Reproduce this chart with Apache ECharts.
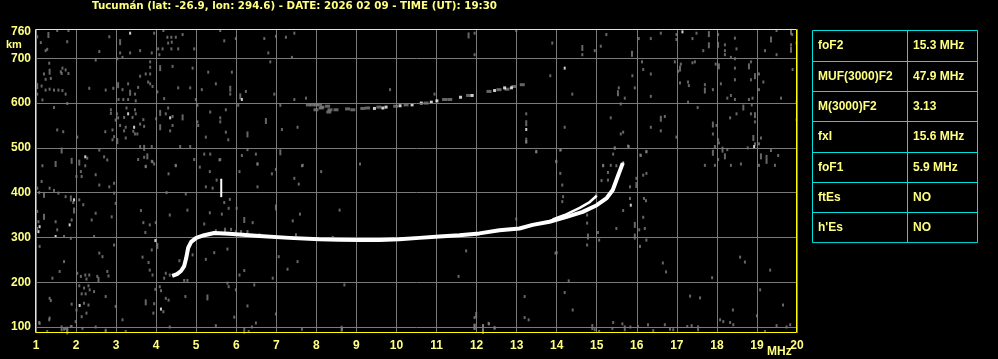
<!DOCTYPE html>
<html><head><meta charset="utf-8">
<script src="https://cdn.jsdelivr.net/npm/echarts@6/dist/echarts.min.js"></script>
<style>html,body{margin:0;padding:0;background:#000}#c{width:998px;height:359px}</style>
</head><body><div id="c"></div><script>
// ---------- data ----------
const titleText = 'Tucumán (lat: -26.9, lon: 294.6) - DATE: 2026 02 09 - TIME (UT): 19:30';
const xTicks = [1,2,3,4,5,6,7,8,9,10,11,12,13,14,15,16,17,18,19,20];
const yTicks = [100,200,300,400,500,600,700,760];
const yGridLines = [100,200,300,400,500,600,700];
const paramNames = ['foF2','MUF(3000)F2','M(3000)F2','fxI','foF1','ftEs',"h'Es"];
const paramValues = ['15.3 MHz','47.9 MHz','3.13','15.6 MHz','5.9 MHz','NO','NO'];

// main F-layer trace (MHz, km)
const traceF = [4.40,4.52,4.62,4.70,4.75,4.80,4.875,5.0,5.2,5.45,5.82,6.57,7.32,8.07,8.57,9.07,9.57,10.07,10.57,11.07,11.57,12.07,12.57,13.07,13.4,13.82,14.25,14.65,15.0,15.25,15.4,15.52,15.65];
const traceH = [214,218,225,236,254,277,290,299,305,310,308,303,299,296,295,294,294,296,299,302,305,309,316,320,328,335,346,357,372,388,406,435,466];
// second (thin) branch near the critical frequency
const branchF = [13.9,14.2,14.575,14.825,15.0];
const branchH = [340,350,366,379,393];
// short vertical echo near 5.6 MHz
const spikeF = [5.625,5.625];
const spikeH = [390,431];
// multi-hop trace near 600 km
const hopGray = [[7.8,596],[7.9,596],[8.0,596],[8.08,597],[7.99,585],[8.12,589],[8.14,591],[8.28,593],[8.34,585],[8.31,580],[8.49,585],[8.78,587],[8.91,585],[9.16,588],[9.28,589],[9.56,591],[9.98,593],[10.24,596],[10.74,600],[11.2,608],[11.33,608],[11.8,617],[12.31,626],[12.56,630],[12.76,631],[12.93,637],[13.14,641]];
const hopWhite = [[9.45,588],[9.66,589],[9.74,591],[10.09,594],[10.39,596],[10.62,600],[10.87,602],[11.01,605],[11.6,613],[11.89,617],[12.45,628],[12.7,634],[12.87,634]];

// background noise (MHz, km)
const noiseGray = [
[3.95,756],[4.18,762],[4.28,747],[4.38,747],[4.49,747],[4.66,753],[4.3,734],[4.39,736],[3.1,712],[3.35,712],[3.6,717],[3.89,712],[4.05,721],[4.16,721],[4.38,721],[4.55,721],[4.95,721],[4.08,708],[3.03,699],[3.16,702],[3.85,692],[3.85,680],[4.41,682],[4.91,678],[3.6,660],[3.74,665],[3.85,665],[3.8,647],[3.85,643],[3.91,637],[3.3,643],[3.55,635],[3.16,630],[3.06,608],[3.18,608],[3.3,608],[3.49,605],[3.47,620],[4.03,625],[4.2,610],[4.55,634],[4.85,634],[4.99,608],[5.14,630],[5.3,669],[5.49,643],[5.7,739],[5.6,762],[5.85,620],[5.99,744],[6.24,626],[5.89,669],[6.7,744],[6.99,749],[7.24,747],[7.45,756],[6.8,712],[6.85,692],[7.39,702],[6.95,620],[7.45,608],[7.74,611],[5.03,595],[5.35,580],[5.6,567],[5.74,585],[5.6,558],[6.05,595],[7.1,595],[7.14,541],[7.53,546],[5.03,558],[5.05,550],[5.24,524],[5.74,535],[5.8,518],[3.26,589],[3.47,585],[3.2,568],[3.41,568],[3.49,576],[3.68,563],[3.6,553],[3.7,548],[3.24,546],[3.2,538],[3.43,537],[3.53,531],[3.47,531],[3.24,522],[3.05,567],[3.1,550],[3.02,576],[4.0,565],[4.24,576],[4.41,570],[4.3,589],[4.35,538],[4.41,550],[3.6,503],[3.89,503],[3.7,479],[3.55,474],[3.89,470],[3.95,464],[3.74,459],[4.49,461],[4.6,503],[4.85,503],[4.95,474],[5.2,486],[5.35,486],[5.6,474],[6.14,483],[6.28,496],[6.49,486],[6.53,464],[7.66,461],
[11.95,756],[11.95,708],[12.99,762],[13.89,734],[13.84,661],[9.84,630],[10.95,620],[13.24,576],[13.49,491],[13.99,470],[9.09,464],
[15.24,753],[16.6,756],[16.99,753],[17.49,756],[18.03,753],[18.45,745],[19.49,762],[19.88,753],[14.64,708],[14.95,717],[15.1,727],[16.05,744],[16.35,744],[16.99,742],[17.39,744],[17.66,717],[18.2,730],[18.2,717],[18.2,708],[18.49,721],[18.35,702],[18.45,699],[19.2,717],[19.49,708],[19.85,730],[19.99,734],[14.39,620],[15.55,634],[15.7,611],[15.95,634],[15.89,661],[16.13,692],[16.16,675],[16.35,665],[16.35,615],[16.95,692],[17.03,671],[17.1,687],[17.28,647],[17.3,639],[17.08,645],[17.39,690],[17.45,692],[17.7,641],[17.9,630],[17.97,687],[18.1,643],[18.26,611],[18.35,617],[18.45,678],[18.45,652],[18.45,608],[18.85,692],[18.85,652],[18.89,611],[18.8,608],[19.05,665],[19.05,630],[19.16,647],[19.6,611],[19.89,675],[17.28,602],[15.6,598],[15.35,567],[15.6,531],[15.66,535],[15.8,503],[15.45,500],[15.41,486],[15.16,461],[15.35,461],[14.2,546],[14.1,496],[16.7,570],[16.6,538],[16.35,546],[16.1,483],[16.24,491],[16.99,524],[17.52,590],[17.99,550],[17.9,531],[18.03,518],[18.05,511],[17.95,503],[18.26,496],[18.03,474],[17.7,461],[17.95,461],[18.35,461],[18.6,464],[18.33,567],[18.49,576],[18.95,558],[18.95,509],[19.05,509],[19.1,522],[18.77,500],[19.24,481],[19.35,494],[19.53,483],[19.45,461],[19.99,563],[19.99,602],[19.05,461],[18.87,596],[18.85,576],
[11.74,270],[11.55,213],[8.7,194],[14.0,266],[14.3,203],[14.2,177],[13.2,168],[14.4,138],[13.2,121],[13.3,116],[11.95,121],[12.16,103],[12.3,108],[12.45,99],
[1.12,735],[1.28,720],[1.24,717],[1.78,737],[1.53,762],[1.81,762],[1.03,748],[1.33,689],[1.24,653],[1.37,655],[1.2,665],[1.62,670],[1.66,678],[1.74,674],[1.81,666],[1.64,666],[1.14,638],[1.24,629],[1.34,631],[1.45,629],[1.56,629],[1.66,628],[1.74,620],[1.16,607],[1.03,620],[1.45,590],[1.78,599],[1.53,540],[1.68,536],[2.03,524],[2.33,633],[1.16,460],[2.12,447],[2.23,460],[2.28,477],[2.01,436],[2.14,436],[1.14,425],[1.34,410],[1.45,405],[1.56,399],[1.74,391],[1.93,378],[1.08,400],[1.03,358],[1.03,410],[1.06,335],[1.03,320],[1.49,335],[1.53,317],[1.89,339],[1.7,302],[1.87,298],[2.08,384],[2.18,373],[1.09,280],[1.7,246],[1.59,224],[1.41,209],[2.03,220],[2.12,213],[2.23,216],[2.33,216],[2.26,207],[2.08,192],[2.2,187],[2.31,192],[2.14,174],[2.24,174],[2.34,183],[2.2,153],[2.31,149],[2.01,138],[2.14,123],[2.26,131],[1.34,164],[1.37,159],[1.89,151],[1.34,120],[1.09,108],[1.74,97],[1.87,101],[1.28,90],[2.16,97],[2.74,629],[2.93,633],[2.87,577],[2.99,562],[2.91,540],[2.73,536],[2.95,525],[2.91,518],[2.49,696],[2.58,715],[2.83,748],[2.87,585],[2.58,495],[2.7,480],[2.78,473],[2.83,413],[2.95,421],[2.95,399],[2.58,417],[2.49,440],[2.99,376],[2.89,346],[2.39,339],[2.45,302],[2.58,265],[2.66,257],[2.78,224],[2.81,214],[2.53,213],[2.74,168],[2.45,179],[2.95,283],[2.49,354],[2.74,93],[2.99,146],
[3.91,469],[3.74,458],[4.49,460],[5.09,457],[5.34,447],[5.58,473],[6.08,447],[6.53,464],[6.89,442],[7.64,460],[8.12,447],[7.45,432],[7.56,419],[6.53,413],[4.31,442],[5.24,413],[5.41,410],[5.51,428],[4.74,397],[4.26,400],[3.62,360],[3.68,333],[3.84,328],[3.99,333],[3.89,272],[3.73,311],[4.34,350],[4.78,361],[5.2,330],[5.34,355],[5.64,352],[5.81,365],[6.01,365],[6.41,333],[5.7,378],[5.84,385],[7.41,337],[7.59,352],[8.58,361],[6.99,452],[5.49,315],[5.87,318],[5.99,313],[6.12,313],[6.28,313],[6.58,306],[6.99,300],[7.49,306],[8.41,300],[4.58,248],[4.24,220],[4.2,209],[4.34,216],[4.91,261],[5.45,266],[5.24,251],[5.78,274],[6.2,226],[6.08,216],[7.06,257],[7.28,229],[7.53,246],[4.7,204],[3.66,256],[3.81,244],[3.84,227],[3.91,216],[3.98,184],[4.09,190],[4.12,181],[3.95,152],[3.93,131],[4.24,164],[4.31,160],[4.73,168],[5.78,198],[5.81,190],[5.99,183],[6.28,147],[5.95,122],[6.45,194],[6.99,129],[6.91,209],[4.18,134],[4.78,204],
[1.08,110],[1.33,116],[1.7,95],[1.89,101],[1.99,112],[2.49,100],[2.74,90],[3.24,90],[3.16,116],[4.34,100],[5.49,103],[6.31,90],[6.49,109],[6.39,100],[7.64,95],[8.64,95],[12.16,103],[12.16,92],[12.31,107],[12.45,97],
[14.95,94],[15.06,90],[15.41,110],[15.39,97],[15.64,107],[15.84,100],[16.03,101],[16.28,105],[16.41,92],[16.7,105],[16.83,95],[16.91,94],[17.26,101],[17.37,103],[18.16,112],[18.33,110],[18.41,105],[19.2,90],[19.49,103],[19.74,100],
[13.24,514],[13.49,492],[14.09,495],[13.99,469],[14.09,443],[14.14,417],[14.16,391],[15.45,499],[15.78,504],[16.09,484],[16.24,492],[16.16,439],[16.24,443],[15.99,432],[15.16,460],[15.28,445],[15.28,428],[15.12,427],[15.49,460],[15.83,413],[16.18,387],[16.23,382],[16.16,345],[15.83,387],[16.06,317],[15.66,360],[15.49,320],[15.06,294],[15.03,311],[14.76,283],[14.76,332],[14.76,350],[14.99,395],[14.14,380],[13.97,265],[12.99,341],[16.08,280],[16.24,294],[16.2,320],
[16.65,243],[16.73,223],[17.33,169],[17.58,165],[17.88,210],[18.58,256],[18.7,245],[19.08,183],[19.33,227],[19.65,149],[18.08,116],[19.0,125],[18.4,138],[19.83,105]
];
const noiseGrayTall = [
[3.1,736],[4.1,678],[3.05,640],[3.35,623],[5.85,632],[6.1,615],[6.74,560],[7.1,490],[6.28,530],[3.03,515],[4.1,578],[4.1,546],[4.66,568],[3.7,500],[3.78,481],
[11.8,751],[13.24,555],[13.24,516],
[17.8,754],[19.85,759],[14.64,723],[15.88,710],[17.8,729],[18.03,730],[19.35,742],[19.85,719],[15.53,622],[17.08,677],[17.7,628],[18.05,682],[18.8,682],[18.95,660],[16.6,565],[17.9,552],[18.14,496],[17.9,489],[18.2,481],[18.66,590],[18.95,573],[18.91,522],[19.1,481],[19.24,471],
[8.63,96],[11.99,127],[11.95,101],[12.16,91],
[1.31,752],[1.34,670],[1.03,638],[1.49,464],[1.64,494],[1.89,471],[2.08,467],[1.87,387],[1.2,395],[1.2,346],[1.95,360],[1.64,97],[1.78,90],[2.56,205],
[4.03,281],[6.2,339],[6.99,367],[5.72,315],[3.74,155],[5.28,166],
[1.78,94],[6.2,92],[11.95,100],[14.89,100],[15.7,97],[17.53,97],
[15.99,417],[15.95,328],[15.95,302],[14.78,302]
];
const noiseWhite = [
[3.35,756],[6.14,608],[3.3,576],[3.45,546],[4.35,567],[13.24,541],[17.14,759],[14.2,678],[15.66,466],[18.93,503],
[2.23,480],[1.95,384],[1.09,324],[1.06,313],[1.84,328],[1.49,302],[2.09,148],[3.98,293],[4.12,140],[15.85,372]
];

// ---------- style ----------
const TXT = '#ffff80';
const FRAME = '#ffff00';
const GRIDC = '#7a7a7a';
const NOISE = '#808080';
const CYAN = '#00e0e0';
const FONT = '"Liberation Sans", Arial, sans-serif';

const zip = (a, b) => a.map((v, i) => [v, b[i]]);

// table graphics
const tL = 812.5, tR = 977.5, tT = 30.5, rowH = 30.3, tDiv = 907.5;
const tB = tT + rowH * paramNames.length;
const graphic = [];
graphic.push({type:'rect', shape:{x:tL, y:tT, width:tR - tL, height:tB - tT}, style:{fill:'none', stroke:CYAN, lineWidth:1}, z:10});
graphic.push({type:'line', shape:{x1:tDiv, y1:tT, x2:tDiv, y2:tB}, style:{stroke:CYAN, lineWidth:1}, z:10});
paramNames.forEach((n, i) => {
  const y0 = tT + rowH * i;
  if (i > 0) graphic.push({type:'line', shape:{x1:tL, y1:Math.round(y0) + 0.5, x2:tR, y2:Math.round(y0) + 0.5}, style:{stroke:CYAN, lineWidth:1}, z:10});
  graphic.push({type:'text', x:818, y:y0 + rowH / 2 + 0.5, style:{text:n, fill:TXT, font:'bold 12px ' + FONT, verticalAlign:'middle'}, z:11});
  graphic.push({type:'text', x:913, y:y0 + rowH / 2 + 0.5, style:{text:paramValues[i], fill:TXT, font:'bold 12px ' + FONT, verticalAlign:'middle'}, z:11});
});
// plot frame
graphic.push({type:'rect', shape:{x:35.5, y:29.5, width:761, height:303}, style:{fill:'none', stroke:FRAME, lineWidth:1}, z:20});
graphic.push({type:'text', x:6, y:45, style:{text:'km', fill:TXT, font:'bold 11px ' + FONT, verticalAlign:'middle'}, z:11});
graphic.push({type:'text', x:767, y:352, style:{text:'MHz', fill:TXT, font:'bold 12px ' + FONT, verticalAlign:'middle'}, z:11});

const chart = echarts.init(document.getElementById('c'), null, {renderer:'canvas'});
chart.setOption({
  backgroundColor:'#000',
  animation:false,
  title:{text:titleText, left:92, top:1, padding:0, textStyle:{color:TXT, fontSize:10.3, fontWeight:'bold', fontFamily:'"DejaVu Sans", sans-serif'}},
  grid:{left:36, right:201, top:29, bottom:26, show:false},
  xAxis:{type:'value', min:1, max:20, interval:1,
    axisLine:{show:false}, axisTick:{show:false},
    splitLine:{show:true, lineStyle:{color:GRIDC, width:1}},
    axisLabel:{color:TXT, fontSize:12, fontWeight:'bold', fontFamily:FONT, margin:7,
      formatter:v => xTicks.includes(v) ? String(v) : ''}},
  yAxis:{type:'value', min:86.6, max:765.4,
    axisLine:{show:false}, axisTick:{show:false}, splitLine:{show:false},
    axisLabel:{customValues:yTicks, color:TXT, fontSize:12, fontWeight:'bold', fontFamily:FONT, margin:5}},
  graphic:graphic,
  series:[
    {type:'line', data:[], silent:true, markLine:{silent:true, symbol:'none', label:{show:false},
      lineStyle:{color:GRIDC, width:1, type:'solid'}, data:yGridLines.map(v => ({yAxis:v}))}},
    {type:'scatter', data:noiseGray, symbol:'rect', symbolSize:[2,3], itemStyle:{color:NOISE}, silent:true},
    {type:'scatter', data:noiseGrayTall, symbol:'rect', symbolSize:[2,6], itemStyle:{color:NOISE}, silent:true},
    {type:'scatter', data:hopGray, symbol:'rect', symbolSize:[5,3], itemStyle:{color:NOISE}, silent:true},
    {type:'scatter', data:hopWhite, symbol:'rect', symbolSize:[3,3], itemStyle:{color:'#fff'}, silent:true},
    {type:'scatter', data:noiseWhite, symbol:'rect', symbolSize:[2,3], itemStyle:{color:'#fff'}, silent:true},
    {type:'line', data:zip(traceF, traceH), showSymbol:false, symbol:'none', lineStyle:{color:'#fff', width:4, join:'round', cap:'butt'}, silent:true, z:5},
    {type:'line', data:zip(branchF, branchH), showSymbol:false, symbol:'none', lineStyle:{color:'#fff', width:2.5}, silent:true, z:5},
    {type:'line', data:zip(spikeF, spikeH), showSymbol:false, symbol:'none', lineStyle:{color:'#fff', width:2}, silent:true, z:5}
  ]
});
</script></body></html>
